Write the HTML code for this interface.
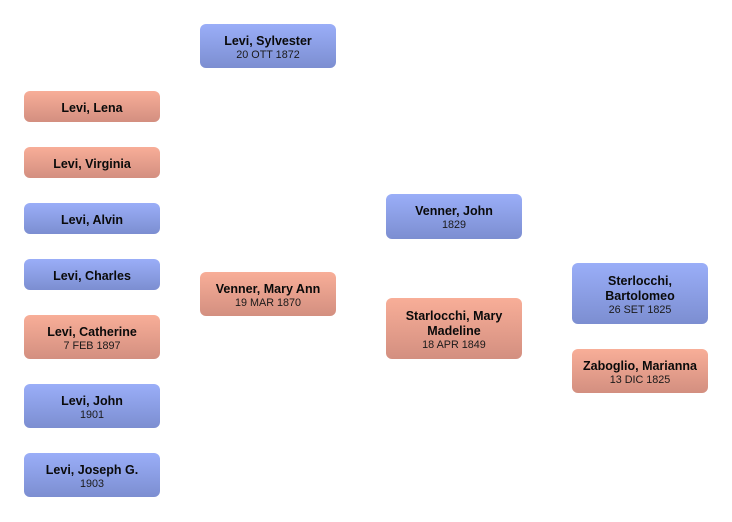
<!DOCTYPE html>
<html>
<head>
<meta charset="utf-8">
<style>
  html, body { margin:0; padding:0; background:#fff; }
  body { width:732px; height:522px; position:relative; overflow:hidden;
         font-family:"Liberation Sans", Arial, sans-serif; color:#111; }
  .b { position:absolute; width:136px; border-radius:6px;
       display:flex; flex-direction:column; justify-content:center; align-items:center;
       text-align:center; box-sizing:border-box; padding:3px 4px 0 4px; }
  .m { background:linear-gradient(to bottom, #9aaef8, #7c8ed1); }
  .f { background:linear-gradient(to bottom, #f8ae98, #d38f80); }
  .n { font-weight:bold; font-size:12.5px; line-height:15px; color:#0a0a0a; }
  .d { font-size:10.8px; line-height:13px; color:#1a1a1a; }
  .s .n { position:relative; top:1px; }
</style>
</head>
<body>
  <div class="b m" style="left:200px;top:24px;height:44px;"><div class="n">Levi, Sylvester</div><div class="d">20 OTT 1872</div></div>

  <div class="b f" style="left:24px;top:91px;height:31px;"><div class="n">Levi, Lena</div></div>
  <div class="b f" style="left:24px;top:147px;height:31px;"><div class="n">Levi, Virginia</div></div>
  <div class="b m" style="left:24px;top:203px;height:31px;"><div class="n">Levi, Alvin</div></div>
  <div class="b m" style="left:24px;top:259px;height:31px;"><div class="n">Levi, Charles</div></div>
  <div class="b f" style="left:24px;top:315px;height:44px;"><div class="n">Levi, Catherine</div><div class="d">7 FEB 1897</div></div>
  <div class="b m" style="left:24px;top:384px;height:44px;"><div class="n">Levi, John</div><div class="d">1901</div></div>
  <div class="b m" style="left:24px;top:453px;height:44px;"><div class="n">Levi, Joseph G.</div><div class="d">1903</div></div>

  <div class="b f" style="left:200px;top:272px;height:44px;"><div class="n">Venner, Mary Ann</div><div class="d">19 MAR 1870</div></div>

  <div class="b m" style="left:386px;top:194px;height:45px;"><div class="n">Venner, John</div><div class="d">1829</div></div>
  <div class="b f" style="left:386px;top:298px;height:61px;"><div class="n">Starlocchi, Mary<br>Madeline</div><div class="d">18 APR 1849</div></div>

  <div class="b m" style="left:572px;top:263px;height:61px;"><div class="n">Sterlocchi,<br>Bartolomeo</div><div class="d">26 SET 1825</div></div>
  <div class="b f" style="left:572px;top:349px;height:44px;"><div class="n">Zaboglio, Marianna</div><div class="d">13 DIC 1825</div></div>
</body>
</html>
